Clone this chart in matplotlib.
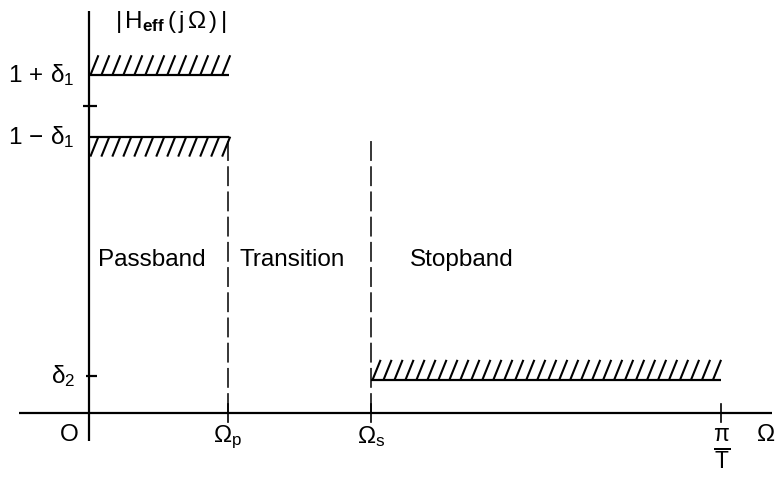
import numpy as np
import matplotlib.pyplot as plt
from matplotlib.collections import LineCollection

plt.rcParams['font.family'] = ['Liberation Sans', 'DejaVu Sans']
plt.rcParams['mathtext.fontset'] = 'custom'
plt.rcParams['mathtext.rm'] = 'Liberation Sans'
plt.rcParams['mathtext.it'] = 'Liberation Sans'
plt.rcParams['mathtext.bf'] = 'Liberation Sans:bold'

# band edges (frequency axis) and tolerances
omega_p = 1.0
omega_s = 2.03
omega_end = 4.55
delta1 = 0.1
delta2 = 0.108
band_labels = ['Passband', 'Transition', 'Stopband']
x_tick_labels = [r'$\Omega_\mathrm{p}$', r'$\Omega_\mathrm{s}$', r'$\frac{\pi}{T}$']

hatch_h = 0.065
hatch_step = 0.079
hatch_slant = 0.058

fig = plt.figure(figsize=(7.75, 4.83), dpi=100)
ax = fig.add_axes([0, 0, 1, 1])
ax.set_xlim(-0.640, 4.935)
ax.set_ylim(-0.228, 1.345)
ax.axis('off')

k = dict(color='black', lw=1.6, solid_capstyle='butt')

# axes
ax.plot([-0.5, 4.91], [0, 0], **k)
ax.plot([0, 0], [-0.09, 1.31], **k)


def hatched(x0, x1, y, above):
    ax.plot([x0, x1], [y, y], **k)
    lo = y if above else y - hatch_h
    segs = [[(xs, lo), (xs + hatch_slant, lo + hatch_h)]
            for xs in np.arange(x0 + 0.01, x1 - hatch_slant + 0.01, hatch_step)]
    ax.add_collection(LineCollection(segs, colors='black', linewidths=1.5))


hatched(0, omega_p + 0.01, 1 + delta1, True)
hatched(0, omega_p + 0.01, 1 - delta1, False)
hatched(omega_s, omega_end, delta2, True)

# band edges
dash = dict(color='black', lw=1.1, ls=(0, (13, 3.5)))
ax.plot([omega_p, omega_p], [0, 1 - delta1], **dash)
ax.plot([omega_s, omega_s], [0, 1 - delta1], **dash)

# ticks
ax.plot([-0.04, 0.06], [1, 1], **k)
ax.plot([-0.02, 0.06], [delta2 + 0.012, delta2 + 0.012], **k)
for xv in [omega_p, omega_s, omega_end]:
    ax.plot([xv, xv], [-0.03, 0.03], color='black', lw=1.2)

fs = 17.5
ax.text(-0.10, 1 + delta1, r'$1\,+\,\delta_1$', ha='right', va='center', fontsize=fs)
ax.text(-0.10, 1 - delta1, r'$1\,-\,\delta_1$', ha='right', va='center', fontsize=fs)
ax.text(-0.10, delta2 + 0.012, r'$\delta_2$', ha='right', va='center', fontsize=fs)
ax.text(-0.145, -0.035, 'O', ha='center', va='top', fontsize=fs)
ax.text(0.59, 1.272, r'$|\,\mathrm{H}_{\mathbf{eff}}\,(\,\mathrm{j}\,\Omega\,)\,|$',
        ha='center', va='center', fontsize=fs)

for xv, lab in zip([omega_p, omega_s], x_tick_labels[:2]):
    ax.text(xv, -0.035, lab, ha='center', va='top', fontsize=fs)
ax.text(omega_end, -0.045, x_tick_labels[2], ha='center', va='top', fontsize=fs + 6)
ax.text(4.87, -0.035, r'$\Omega$', ha='center', va='top', fontsize=fs)

for xc, lab in zip([0.455, 1.46, 2.68], band_labels):
    ax.text(xc, 0.498, lab, ha='center', va='center', fontsize=fs)

fig.savefig('out.png', dpi=100)
